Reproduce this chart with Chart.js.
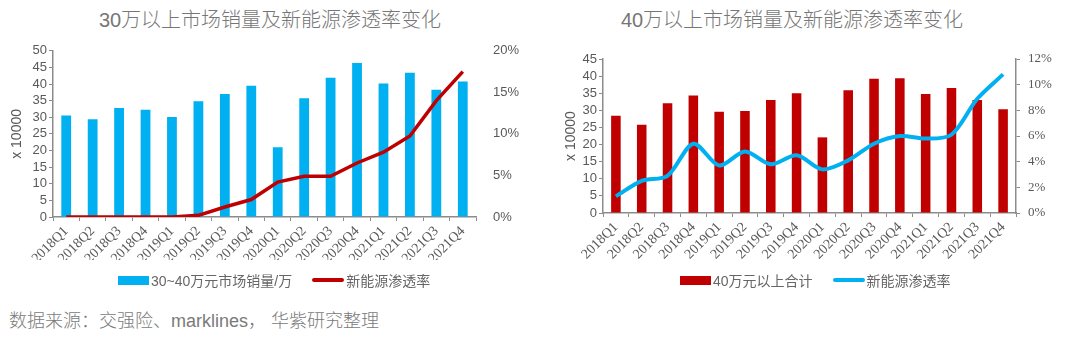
<!DOCTYPE html>
<html lang="zh">
<head>
  <meta charset="UTF-8" />
  <title>30万/40万以上市场销量及新能源渗透率</title>
  <script src="https://cdn.jsdelivr.net/npm/chart.js"></script>
  <style>
    body { margin: 0; background: #fff; width: 1080px; height: 341px; position: relative; overflow: hidden;
           font-family: "Liberation Sans", "Noto Sans CJK SC", sans-serif; color: #595959; }
    .title { position: absolute; top: 4px; font-size: 20px; white-space: nowrap; transform: translateX(-50%);
             font-family: "Liberation Sans", "Noto Sans CJK SC", sans-serif; font-weight: 300; color: #767676; }
    canvas { position: absolute; top: 30px; }
    .legend { position: absolute; top: 270px; font-size: 14px; white-space: nowrap; display: flex; align-items: center; color: #666; }
    .legend .box { display: inline-block; width: 31px; height: 9px; margin-right: 2px; }
    .legend .ln { display: inline-block; width: 32px; height: 4px; margin-right: 2px; border-radius: 2px; }
    .legend .gap { display: inline-block; width: 20px; }
    .source { position: absolute; left: 9px; top: 306px; font-size: 18px; font-weight: 300; color: #7a7a7a; white-space: nowrap; }
  </style>
</head>
<body>

  <div class="title" style="left:270px">30万以上市场销量及新能源渗透率变化</div>
  <div class="title" style="left:792px">40万以上市场销量及新能源渗透率变化</div>

  <canvas id="left" width="540" height="245" style="left:0"></canvas>
  <canvas id="right" width="540" height="245" style="left:540px"></canvas>

  <div class="legend" style="left:118px">
    <span class="box" style="background:#00B0F0"></span><span>30~40万元市场销量/万</span>
    <span class="gap"></span>
    <span class="ln" style="background:#C00000"></span><span>新能源渗透率</span>
  </div>
  <div class="legend" style="left:680px">
    <span class="box" style="background:#C00000"></span><span>40万元以上合计</span>
    <span class="gap"></span>
    <span class="ln" style="background:#00B0F0"></span><span>新能源渗透率</span>
  </div>

  <div class="source">数据来源：交强险、marklines， 华紫研究整理</div>

  <script>
    const quarters = ["2018Q1", "2018Q2", "2018Q3", "2018Q4", "2019Q1", "2019Q2", "2019Q3", "2019Q4",
                      "2020Q1", "2020Q2", "2020Q3", "2020Q4", "2021Q1", "2021Q2", "2021Q3", "2021Q4"];

    // 30~40万元市场销量 (x 10000) and 新能源渗透率 (%)
    const sales30 = [30.5, 29.4, 32.8, 32.3, 30.1, 34.8, 37.0, 39.5, 21.0, 35.7, 41.9, 46.3, 40.2, 43.4, 38.3, 40.8];
    const nev30   = [0, 0, 0, 0, 0, 0.2, 1.2, 2.1, 4.2, 4.9, 4.9, 6.5, 7.8, 9.75, 14.0, 17.5];

    // 40万元以上合计 (x 10000) and 新能源渗透率 (%)
    const sales40 = [28.4, 25.8, 32.1, 34.3, 29.6, 29.8, 33.0, 35.0, 22.1, 35.9, 39.2, 39.4, 34.8, 36.5, 33.0, 30.3];
    const nev40   = [1.3, 2.5, 2.9, 5.4, 3.7, 4.8, 3.8, 4.5, 3.4, 4.1, 5.4, 6.0, 5.8, 6.1, 8.9, 10.8];

    const gray = "#595959";
    const axisColor = "#8c8c8c";
    const sans = "'Liberation Sans', 'Noto Sans CJK SC', sans-serif";
    const serif = "'Liberation Serif', serif";

    function makeChart(id, cfg) {
      return new Chart(document.getElementById(id), {
        data: {
          labels: quarters,
          datasets: [
            { type: "line", data: cfg.lineData, yAxisID: "y1", order: 0,
              borderColor: cfg.lineColor, borderWidth: cfg.lineWidth, pointRadius: 0,
              tension: cfg.tension, fill: false },
            { type: "bar", data: cfg.barData, yAxisID: "y", order: 1,
              backgroundColor: cfg.barColor, categoryPercentage: 1, barPercentage: 0.37 }
          ]
        },
        options: {
          responsive: false,
          animation: false,
          layout: { padding: { top: cfg.padTop, left: 0, right: 0, bottom: 15 } },
          plugins: { legend: { display: false }, tooltip: { enabled: false } },
          scales: {
            x: {
              grid: { display: true, drawOnChartArea: false, color: axisColor, tickLength: 4 },
              border: { color: axisColor, width: 1.5 },
              ticks: { color: gray, font: { family: serif, size: 14 }, minRotation: 45, maxRotation: 45,
                       padding: 2, autoSkip: false },
              afterFit: s => { s.height = cfg.xHeight; }
            },
            y: {
              position: "left",
              min: 0, max: cfg.yMax,
              grid: { display: true, drawOnChartArea: false, color: axisColor, tickLength: 4 },
              border: { color: axisColor, width: 1.5 },
              ticks: { color: gray, font: { family: sans, size: 13 }, stepSize: 5, padding: 2, autoSkip: false },
              title: { display: true, text: "x 10000", color: gray, font: { family: sans, size: 14 },
                       padding: { top: cfg.titlePad, bottom: 0 } },
              afterFit: s => { s.width = cfg.yWidth; }
            },
            y1: {
              position: "right",
              min: 0, max: cfg.y1Max,
              grid: { display: cfg.y1Axis, drawOnChartArea: false, color: axisColor, tickLength: 4 },
              border: { display: cfg.y1Axis, color: axisColor, width: 1.5 },
              ticks: { color: gray, font: { family: cfg.y1Font, size: 13 }, stepSize: cfg.y1Step,
                       padding: cfg.y1Pad, autoSkip: false, callback: v => v + "%" },
              afterFit: s => { s.width = 64; }
            }
          }
        }
      });
    }

    makeChart("left", {
      barData: sales30, lineData: nev30,
      barColor: "#00B0F0", lineColor: "#C00000", lineWidth: 3.5, tension: 0,
      padTop: 16, yMax: 50, y1Max: 20, y1Step: 5, y1Axis: false, y1Pad: 13, y1Font: sans,
      yWidth: 53, xHeight: 43, titlePad: 9
    });

    makeChart("right", {
      barData: sales40, lineData: nev40,
      barColor: "#C00000", lineColor: "#00B0F0", lineWidth: 4, tension: 0.3,
      padTop: 29, yMax: 45, y1Max: 12, y1Step: 2, y1Axis: true, y1Pad: 8, y1Font: serif,
      yWidth: 63, xHeight: 47, titlePad: 23
    });
  </script>

</body>
</html>
